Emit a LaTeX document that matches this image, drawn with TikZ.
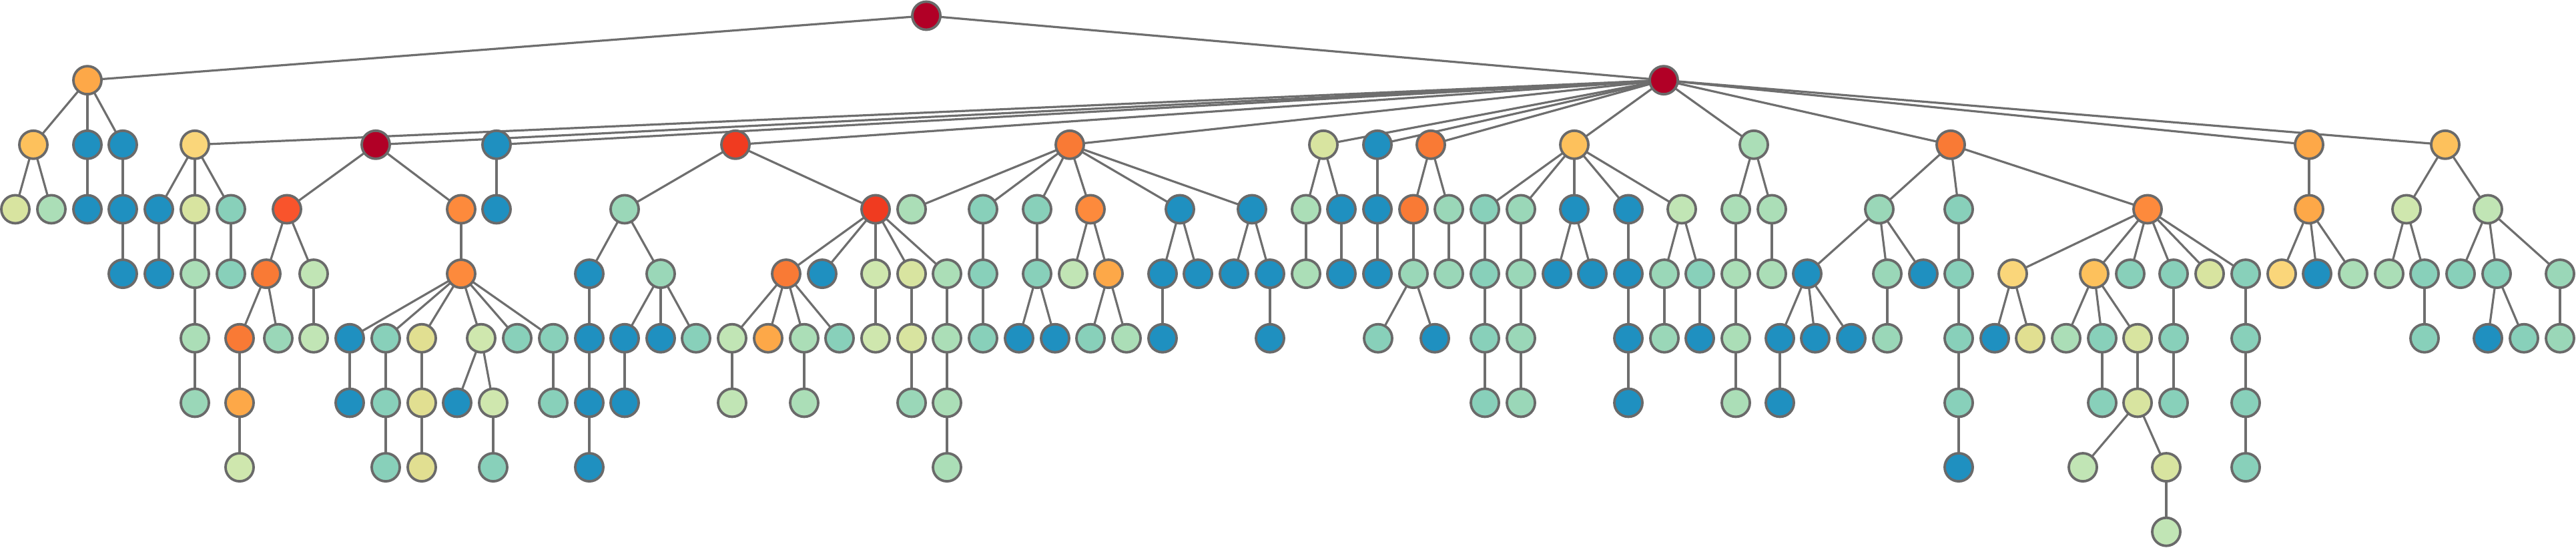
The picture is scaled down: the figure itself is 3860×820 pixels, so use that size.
\documentclass[tikz,border=0pt]{standalone}
\usetikzlibrary{backgrounds}
\pgfdeclarelayer{paper}
\pgfsetlayers{paper,background,main}
\definecolor{cDR}{HTML}{B10026}
\definecolor{cR}{HTML}{F03B20}
\definecolor{cRO}{HTML}{F9542C}
\definecolor{cO}{HTML}{F97A35}
\definecolor{cOO}{HTML}{FD8A3C}
\definecolor{cLO}{HTML}{FDA848}
\definecolor{cYO}{HTML}{FDC15C}
\definecolor{cY}{HTML}{FAD67A}
\definecolor{cYY}{HTML}{E1DF91}
\definecolor{cYG}{HTML}{D8E4A0}
\definecolor{cLYG}{HTML}{CFE7AE}
\definecolor{cLGG}{HTML}{C1E5B5}
\definecolor{cLG}{HTML}{ABDEB7}
\definecolor{cG}{HTML}{9AD7B8}
\definecolor{cT}{HTML}{88D0BA}
\definecolor{cB}{HTML}{1F90C0}
\definecolor{edgegray}{HTML}{6E6E6E}
\definecolor{bordergray}{HTML}{6A6A6A}
\tikzset{
  nd/.style={circle, draw=bordergray, line width=0.038cm, minimum size=0.42cm, inner sep=0pt, outer sep=0pt},
  edge/.style={draw=edgegray, line width=0.032cm}
}
\newcommand{\mknode}[3]{\node[nd,fill=#3] (n#1k#2) at (#1,{23.5+96.65*#2}) {};}
\newcommand{\mkchild}[4]{\node[nd,fill=#4] (n#2k#3) at (#2,{23.5+96.65*#3}) {};
  \begin{pgfonlayer}{background}\draw[edge] (#1) -- (n#2k#3);\end{pgfonlayer}}
\begin{document}
\begin{tikzpicture}[x=0.01cm,y=-0.01cm]
\begin{pgfonlayer}{paper}
\fill[white] (0,0) rectangle (3860,820);
\end{pgfonlayer}
\useasboundingbox (0,0) rectangle (3860,820);
\mknode{1388}{0}{cDR}
\mkchild{n1388k0}{131}{1}{cLO}
\mkchild{n1388k0}{2493}{1}{cDR}
% subtree A
\mkchild{n131k1}{50}{2}{cYO}
\mkchild{n131k1}{131}{2}{cB}
\mkchild{n131k1}{184}{2}{cB}
\mkchild{n50k2}{23}{3}{cYG}
\mkchild{n50k2}{77}{3}{cLG}
\mkchild{n131k2}{131}{3}{cB}
\mkchild{n184k2}{184}{3}{cB}
\mkchild{n184k3}{184}{4}{cB}
% subtree B
\mkchild{n2493k1}{292}{2}{cY}
\mkchild{n292k2}{238}{3}{cB}
\mkchild{n238k3}{238}{4}{cB}
\mkchild{n292k2}{292}{3}{cYG}
\mkchild{n292k3}{292}{4}{cLG}
\mkchild{n292k4}{292}{5}{cLG}
\mkchild{n292k5}{292}{6}{cG}
\mkchild{n292k2}{346}{3}{cT}
\mkchild{n346k3}{346}{4}{cT}
%
\mkchild{n2493k1}{563}{2}{cDR}
\mkchild{n563k2}{430}{3}{cRO}
\mkchild{n430k3}{399}{4}{cO}
\mkchild{n399k4}{359}{5}{cO}
\mkchild{n359k5}{359}{6}{cLO}
\mkchild{n359k6}{359}{7}{cLYG}
\mkchild{n399k4}{417}{5}{cG}
\mkchild{n430k3}{470}{4}{cLGG}
\mkchild{n470k4}{470}{5}{cLGG}
\mkchild{n563k2}{691}{3}{cOO}
\mkchild{n691k3}{691}{4}{cOO}
\mkchild{n691k4}{524}{5}{cB}
\mkchild{n524k5}{524}{6}{cB}
\mkchild{n691k4}{578}{5}{cT}
\mkchild{n578k5}{578}{6}{cT}
\mkchild{n578k6}{578}{7}{cT}
\mkchild{n691k4}{632}{5}{cYY}
\mkchild{n632k5}{632}{6}{cYY}
\mkchild{n632k6}{632}{7}{cYY}
\mkchild{n691k4}{721}{5}{cLYG}
\mkchild{n721k5}{685}{6}{cB}
\mkchild{n721k5}{739}{6}{cLYG}
\mkchild{n739k6}{739}{7}{cT}
\mkchild{n691k4}{775}{5}{cT}
\mkchild{n691k4}{829}{5}{cT}
\mkchild{n829k5}{829}{6}{cT}
%
\mkchild{n2493k1}{744}{2}{cB}
\mkchild{n744k2}{744}{3}{cB}
%
\mkchild{n2493k1}{1102}{2}{cR}
\mkchild{n1102k2}{936}{3}{cG}
\mkchild{n936k3}{883}{4}{cB}
\mkchild{n883k4}{883}{5}{cB}
\mkchild{n883k5}{883}{6}{cB}
\mkchild{n883k6}{883}{7}{cB}
\mkchild{n936k3}{990}{4}{cG}
\mkchild{n990k4}{936}{5}{cB}
\mkchild{n936k5}{936}{6}{cB}
\mkchild{n990k4}{990}{5}{cB}
\mkchild{n990k4}{1043}{5}{cT}
\mkchild{n1102k2}{1312}{3}{cR}
\mkchild{n1312k3}{1178}{4}{cO}
\mkchild{n1178k4}{1097}{5}{cLGG}
\mkchild{n1097k5}{1097}{6}{cLGG}
\mkchild{n1178k4}{1151}{5}{cLO}
\mkchild{n1178k4}{1205}{5}{cLG}
\mkchild{n1205k5}{1205}{6}{cLG}
\mkchild{n1178k4}{1258}{5}{cT}
\mkchild{n1312k3}{1232}{4}{cB}
\mkchild{n1312k3}{1312}{4}{cLYG}
\mkchild{n1312k4}{1312}{5}{cLYG}
\mkchild{n1312k3}{1366}{4}{cYG}
\mkchild{n1366k4}{1366}{5}{cYG}
\mkchild{n1366k5}{1366}{6}{cG}
\mkchild{n1312k3}{1419}{4}{cLG}
\mkchild{n1419k4}{1419}{5}{cLG}
\mkchild{n1419k5}{1419}{6}{cLG}
\mkchild{n1419k6}{1419}{7}{cLG}
%
\mkchild{n2493k1}{1603}{2}{cO}
\mkchild{n1603k2}{1366}{3}{cLG}
\mkchild{n1603k2}{1473}{3}{cT}
\mkchild{n1473k3}{1473}{4}{cT}
\mkchild{n1473k4}{1473}{5}{cT}
\mkchild{n1603k2}{1554}{3}{cT}
\mkchild{n1554k3}{1554}{4}{cT}
\mkchild{n1554k4}{1527}{5}{cB}
\mkchild{n1554k4}{1581}{5}{cB}
\mkchild{n1603k2}{1634}{3}{cOO}
\mkchild{n1634k3}{1608}{4}{cLGG}
\mkchild{n1634k3}{1661}{4}{cLO}
\mkchild{n1661k4}{1634}{5}{cT}
\mkchild{n1661k4}{1688}{5}{cLG}
\mkchild{n1603k2}{1768}{3}{cB}
\mkchild{n1768k3}{1742}{4}{cB}
\mkchild{n1742k4}{1742}{5}{cB}
\mkchild{n1768k3}{1795}{4}{cB}
\mkchild{n1603k2}{1876}{3}{cB}
\mkchild{n1876k3}{1849}{4}{cB}
\mkchild{n1876k3}{1903}{4}{cB}
\mkchild{n1903k4}{1903}{5}{cB}
%
\mkchild{n2493k1}{1983}{2}{cYG}
\mkchild{n1983k2}{1957}{3}{cLG}
\mkchild{n1957k3}{1957}{4}{cLG}
\mkchild{n1983k2}{2010}{3}{cB}
\mkchild{n2010k3}{2010}{4}{cB}
\mkchild{n2493k1}{2064}{2}{cB}
\mkchild{n2064k2}{2064}{3}{cB}
\mkchild{n2064k3}{2064}{4}{cB}
\mkchild{n2493k1}{2144}{2}{cO}
\mkchild{n2144k2}{2118}{3}{cO}
\mkchild{n2118k3}{2118}{4}{cG}
\mkchild{n2118k4}{2065}{5}{cT}
\mkchild{n2118k4}{2150}{5}{cB}
\mkchild{n2144k2}{2171}{3}{cG}
\mkchild{n2171k3}{2171}{4}{cG}
%
\mkchild{n2493k1}{2359}{2}{cYO}
\mkchild{n2359k2}{2225}{3}{cT}
\mkchild{n2225k3}{2225}{4}{cT}
\mkchild{n2225k4}{2225}{5}{cT}
\mkchild{n2225k5}{2225}{6}{cT}
\mkchild{n2359k2}{2279}{3}{cG}
\mkchild{n2279k3}{2279}{4}{cG}
\mkchild{n2279k4}{2279}{5}{cG}
\mkchild{n2279k5}{2279}{6}{cG}
\mkchild{n2359k2}{2359}{3}{cB}
\mkchild{n2359k3}{2333}{4}{cB}
\mkchild{n2359k3}{2386}{4}{cB}
\mkchild{n2359k2}{2440}{3}{cB}
\mkchild{n2440k3}{2440}{4}{cB}
\mkchild{n2440k4}{2440}{5}{cB}
\mkchild{n2440k5}{2440}{6}{cB}
\mkchild{n2359k2}{2520}{3}{cLGG}
\mkchild{n2520k3}{2494}{4}{cG}
\mkchild{n2494k4}{2494}{5}{cG}
\mkchild{n2520k3}{2547}{4}{cT}
\mkchild{n2547k4}{2547}{5}{cB}
%
\mkchild{n2493k1}{2628}{2}{cLG}
\mkchild{n2628k2}{2601}{3}{cLG}
\mkchild{n2601k3}{2601}{4}{cLG}
\mkchild{n2601k4}{2601}{5}{cLG}
\mkchild{n2601k5}{2601}{6}{cLG}
\mkchild{n2628k2}{2655}{3}{cLG}
\mkchild{n2655k3}{2655}{4}{cLG}
%
\mkchild{n2493k1}{2923}{2}{cO}
\mkchild{n2923k2}{2816}{3}{cG}
\mkchild{n2816k3}{2708}{4}{cB}
\mkchild{n2708k4}{2667}{5}{cB}
\mkchild{n2667k5}{2667}{6}{cB}
\mkchild{n2708k4}{2720}{5}{cB}
\mkchild{n2708k4}{2774}{5}{cB}
\mkchild{n2816k3}{2828}{4}{cG}
\mkchild{n2828k4}{2828}{5}{cG}
\mkchild{n2816k3}{2882}{4}{cB}
\mkchild{n2923k2}{2935}{3}{cT}
\mkchild{n2935k3}{2935}{4}{cT}
\mkchild{n2935k4}{2935}{5}{cT}
\mkchild{n2935k5}{2935}{6}{cT}
\mkchild{n2935k6}{2935}{7}{cB}
\mkchild{n2923k2}{3218}{3}{cOO}
\mkchild{n3218k3}{3016}{4}{cY}
\mkchild{n3016k4}{2989}{5}{cB}
\mkchild{n3016k4}{3042}{5}{cYY}
\mkchild{n3218k3}{3138}{4}{cYO}
\mkchild{n3138k4}{3096}{5}{cLG}
\mkchild{n3138k4}{3150}{5}{cT}
\mkchild{n3150k5}{3150}{6}{cT}
\mkchild{n3138k4}{3203}{5}{cYG}
\mkchild{n3203k5}{3203}{6}{cYG}
\mkchild{n3203k6}{3121}{7}{cLGG}
\mkchild{n3203k6}{3246}{7}{cYG}
\mkchild{n3246k7}{3246}{8}{cLGG}
\mkchild{n3218k3}{3192}{4}{cT}
\mkchild{n3218k3}{3257}{4}{cT}
\mkchild{n3257k4}{3257}{5}{cT}
\mkchild{n3257k5}{3257}{6}{cT}
\mkchild{n3218k3}{3311}{4}{cYG}
\mkchild{n3218k3}{3365}{4}{cT}
\mkchild{n3365k4}{3365}{5}{cT}
\mkchild{n3365k5}{3365}{6}{cT}
\mkchild{n3365k6}{3365}{7}{cT}
%
\mkchild{n2493k1}{3460}{2}{cLO}
\mkchild{n3460k2}{3460}{3}{cLO}
\mkchild{n3460k3}{3419}{4}{cY}
\mkchild{n3460k3}{3472}{4}{cB}
\mkchild{n3460k3}{3526}{4}{cLG}
\mkchild{n2493k1}{3664}{2}{cYO}
\mkchild{n3664k2}{3606}{3}{cLYG}
\mkchild{n3606k3}{3580}{4}{cLG}
\mkchild{n3606k3}{3633}{4}{cT}
\mkchild{n3633k4}{3633}{5}{cT}
\mkchild{n3664k2}{3728}{3}{cLGG}
\mkchild{n3728k3}{3687}{4}{cT}
\mkchild{n3728k3}{3741}{4}{cT}
\mkchild{n3741k4}{3728}{5}{cB}
\mkchild{n3741k4}{3782}{5}{cT}
\mkchild{n3728k3}{3836}{4}{cG}
\mkchild{n3836k4}{3836}{5}{cG}
\end{tikzpicture}
\end{document}
